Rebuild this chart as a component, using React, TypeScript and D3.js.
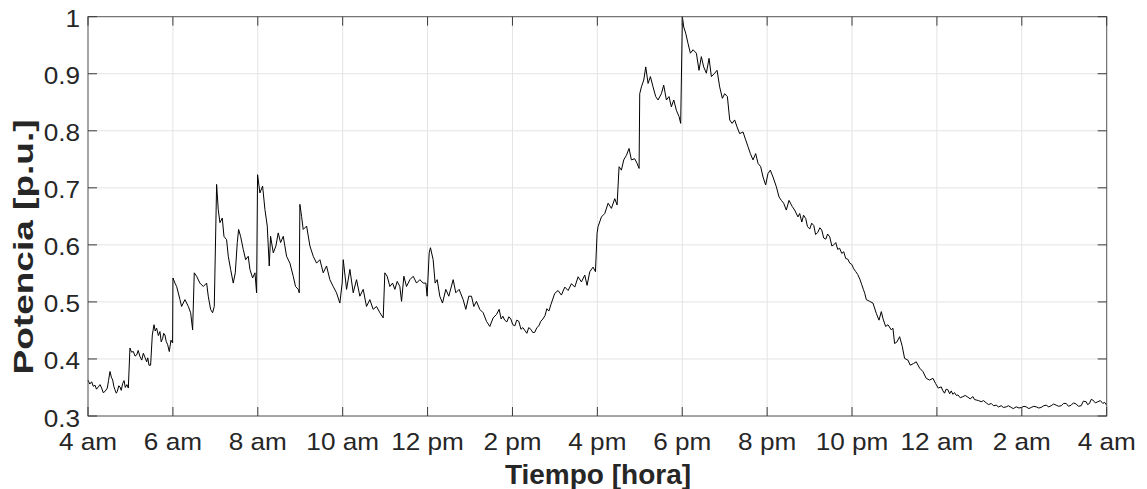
import React from 'react';
import * as d3 from 'd3';

// ---- Data: minutes since 4:00 am, power [p.u.] ----
const madrugada: [number, number][] = [
  [0, 0.363], [2.5, 0.356], [5.2, 0.36], [7.5, 0.352], [9.9, 0.354], [12, 0.347], [14.6, 0.351],
  [17, 0.355], [19.3, 0.349], [21.5, 0.341], [24, 0.343], [27.3, 0.349], [29, 0.362], [31.1, 0.378],
  [33, 0.368], [34.9, 0.363], [36.5, 0.352], [38.1, 0.346], [40, 0.34], [41.4, 0.343], [43.5, 0.353],
  [45.2, 0.351], [47, 0.345], [49, 0.357], [51, 0.362], [52.7, 0.35], [55, 0.355], [57, 0.349],
  [59.3, 0.419], [61.5, 0.412], [64.1, 0.413], [66.5, 0.405], [68.8, 0.407], [71, 0.415], [73.5, 0.404],
  [76, 0.398], [78.2, 0.41], [80.5, 0.403], [82.9, 0.395], [84.5, 0.402], [86.2, 0.389], [88.5, 0.389],
  [90.9, 0.442], [93.3, 0.46], [95, 0.449], [97, 0.454], [99.5, 0.441], [101.7, 0.448], [103.5, 0.43],
  [105.5, 0.436], [107, 0.445], [108.8, 0.442], [110.5, 0.431], [112.6, 0.425], [114.9, 0.413],
  [117.3, 0.433], [119.6, 0.428],
];

const manana: [number, number][] = [
  [120.1, 0.542], [122.9, 0.533], [125.3, 0.527], [130.0, 0.504], [132.3, 0.492], [137.0, 0.504],
  [141.8, 0.492], [145.1, 0.481], [147.9, 0.451], [150.2, 0.551], [153.5, 0.545], [158.2, 0.533],
  [163.0, 0.527], [167.7, 0.533], [170.0, 0.51], [173.3, 0.487], [176.1, 0.481], [178.5, 0.492],
  [181.8, 0.706], [184.1, 0.662], [186.5, 0.639], [189.8, 0.647], [192.2, 0.615], [195.9, 0.609],
  [198.3, 0.58], [201.6, 0.557], [205.3, 0.533], [208.2, 0.551], [211.0, 0.604], [212.9, 0.627],
  [215.7, 0.615], [219.5, 0.592], [222.8, 0.574], [226.5, 0.58], [228.9, 0.557], [232.7, 0.542],
  [236.0, 0.551], [238.3, 0.516], [239.7, 0.723], [243.0, 0.691], [246.8, 0.703], [250.1, 0.662],
  [253.4, 0.633], [256.2, 0.563], [258.1, 0.615], [261.9, 0.586], [265.6, 0.598], [268.9, 0.621],
  [272.2, 0.604], [276.0, 0.615], [280.7, 0.58], [285.4, 0.568], [290.1, 0.545], [293.4, 0.527],
  [297.2, 0.522], [298.6, 0.516], [299.5, 0.671], [301.9, 0.65], [304.2, 0.627], [309.0, 0.633],
  [313.7, 0.598], [318.4, 0.58], [323.1, 0.568], [327.8, 0.574], [332.5, 0.551], [337.2, 0.563],
  [341.9, 0.539], [346.6, 0.527], [351.3, 0.516], [356.0, 0.498], [359.3, 0.533], [360.8, 0.574],
  [365.5, 0.522], [370.2, 0.557], [374.9, 0.516], [379.6, 0.539], [384.3, 0.51], [389.0, 0.522],
  [393.7, 0.492], [398.4, 0.504], [403.1, 0.487], [407.9, 0.492], [412.6, 0.481], [417.3, 0.472],
  [419.6, 0.551], [422.9, 0.545], [426.7, 0.527], [430.5, 0.533], [433.8, 0.522], [437.1, 0.536],
  [440.8, 0.527], [443.2, 0.501], [446.5, 0.545], [450.2, 0.527], [455.0, 0.539], [459.7, 0.545],
  [464.4, 0.533], [469.1, 0.539], [473.8, 0.533], [477.6, 0.533], [479.4, 0.51],
];

const mediodia: [number, number][] = [
  [482.3, 0.586], [484.1, 0.595], [487.9, 0.574], [490.7, 0.533], [493.6, 0.539], [497.3, 0.51],
  [501.1, 0.498], [505.8, 0.522], [510.0, 0.51], [516.2, 0.539], [519.9, 0.516], [524.6, 0.522],
  [530.3, 0.504], [534.1, 0.487], [538.3, 0.51], [542.1, 0.51], [545.4, 0.492], [549.1, 0.501],
  [553.8, 0.487], [558.6, 0.481], [563.3, 0.466], [568.0, 0.457], [572.7, 0.472], [577.4, 0.478],
  [581.2, 0.487], [584, 0.47], [586.4, 0.475], [589, 0.468], [592.1, 0.465], [595, 0.474],
  [597.7, 0.47], [600.5, 0.46], [603.4, 0.458], [606, 0.468], [609, 0.466], [612, 0.452],
  [614.7, 0.455], [617.5, 0.45], [620.4, 0.445], [623, 0.455], [626, 0.452], [629, 0.446],
  [631.7, 0.447], [634.5, 0.455], [637.3, 0.458], [640, 0.466], [643, 0.47], [646, 0.476],
  [648.6, 0.488], [651.5, 0.484], [654.3, 0.495], [657, 0.505],
];

const tarde: [number, number][] = [
  [659.8, 0.515], [664.5, 0.52], [669.2, 0.512], [674.0, 0.526], [678.7, 0.52], [683.4, 0.532],
  [688.1, 0.526], [692.8, 0.544], [697.5, 0.535], [702.2, 0.547], [705.5, 0.529], [709.3, 0.553],
  [714.0, 0.561], [717.3, 0.553], [719.6, 0.62], [721.0, 0.632], [725.8, 0.649], [730.5, 0.655],
  [735.2, 0.673], [739.9, 0.664], [744.6, 0.681], [747.9, 0.67], [750.7, 0.737], [754.0, 0.731],
  [757.3, 0.749], [761.1, 0.757], [764.8, 0.769], [768.1, 0.749], [772.8, 0.751], [776.1, 0.743],
  [779.0, 0.734], [779.9, 0.865], [782.3, 0.877], [785.6, 0.889], [788.4, 0.912], [791.7, 0.883],
  [795.0, 0.895], [798.7, 0.877], [802.5, 0.86], [805.8, 0.854], [810.5, 0.865], [813.8, 0.88],
  [817.6, 0.854], [821.3, 0.86], [824.6, 0.842], [828.0, 0.854], [831.7, 0.836], [835.5, 0.825],
  [837.8, 0.813],
];

const noche: [number, number][] = [
  [840.2, 1.0], [842.1, 0.982], [844.9, 0.971], [848.2, 0.953], [851.5, 0.936], [855.3, 0.942],
  [860.0, 0.936], [863.7, 0.906], [867.0, 0.93], [870.3, 0.912], [874.1, 0.901], [877.9, 0.927],
  [881.2, 0.895], [885.9, 0.901], [889.2, 0.906], [892.9, 0.877], [896.7, 0.857], [900.0, 0.865],
  [903.8, 0.86], [907.1, 0.819], [910.4, 0.813], [914.1, 0.819], [917.4, 0.807], [921.2, 0.795],
  [925.9, 0.798], [929.7, 0.784], [933.0, 0.772], [936.3, 0.76], [940.0, 0.749], [943.8, 0.76],
  [947.1, 0.743], [950.9, 0.737], [954.2, 0.719], [957.9, 0.705], [961.2, 0.725], [964.5, 0.731],
  [968.3, 0.719], [973.0, 0.702], [976.8, 0.684], [980.1, 0.678], [983.4, 0.673], [987.1, 0.661],
  [990.9, 0.678], [995.6, 0.667], [998.9, 0.661], [1003.6, 0.649], [1006, 0.655], [1009.0, 0.64],
  [1011.5, 0.652], [1014.6, 0.646], [1017, 0.632], [1020.3, 0.628], [1023, 0.638], [1025.9, 0.634],
  [1028.5, 0.618], [1031.6, 0.622], [1034.5, 0.63], [1037.2, 0.626], [1040, 0.612], [1042.9, 0.61],
  [1045.5, 0.619], [1048.5, 0.614], [1051.5, 0.598], [1054.2, 0.6], [1057, 0.604], [1059.8, 0.592],
  [1062.5, 0.594], [1065.5, 0.585], [1068.3, 0.588], [1071.1, 0.576], [1074, 0.575], [1076.8, 0.568],
  [1079.5, 0.566], [1082.5, 0.558], [1085.3, 0.553], [1088.1, 0.548], [1091, 0.54], [1093.8, 0.53],
  [1096, 0.522], [1098.0, 0.515], [1100.2, 0.504], [1104.9, 0.501], [1109.6, 0.498],
  [1114.3, 0.48], [1118.1, 0.468], [1121.4, 0.483], [1123.7, 0.471], [1127.5, 0.457], [1130.8, 0.46],
  [1135.5, 0.451], [1137.8, 0.454], [1140.2, 0.427], [1143.5, 0.43], [1147.3, 0.439], [1151.0, 0.422],
  [1154.3, 0.401], [1159.0, 0.398], [1162.3, 0.389], [1167.0, 0.392], [1170.8, 0.395], [1175.5, 0.384],
  [1180.2, 0.378], [1184.9, 0.366], [1189.6, 0.363], [1194.4, 0.366], [1198.1, 0.357], [1201.9, 0.349],
];

const trasnoche: [number, number][] = [
  [1206.1, 0.351], [1208.5, 0.344], [1210.8, 0.34], [1213, 0.347], [1215.5, 0.346], [1218, 0.339],
  [1220.3, 0.344], [1222.5, 0.338], [1225, 0.341], [1227.5, 0.336], [1229.7, 0.337], [1233, 0.332],
  [1236.7, 0.334], [1240, 0.336], [1243.8, 0.333], [1247, 0.33], [1250.9, 0.334], [1253, 0.329],
  [1255.6, 0.328], [1259, 0.327], [1262.6, 0.325], [1266, 0.327], [1269.7, 0.323], [1273, 0.32],
  [1276.8, 0.322], [1280, 0.318], [1283.8, 0.319], [1287, 0.316], [1290.9, 0.318], [1294, 0.315],
  [1298, 0.316], [1301, 0.318], [1305, 0.315], [1308, 0.313], [1312.1, 0.316], [1316, 0.314],
  [1319.6, 0.315], [1323, 0.317], [1326.2, 0.316], [1330, 0.313], [1333.3, 0.315], [1337, 0.317],
  [1340.4, 0.316], [1344, 0.314], [1347.4, 0.315], [1351, 0.318], [1354.5, 0.319], [1358, 0.316],
  [1361.5, 0.318], [1365, 0.321], [1368.6, 0.319], [1372, 0.317], [1375.7, 0.318], [1379, 0.322],
  [1382.7, 0.322], [1386, 0.317], [1389.8, 0.319], [1393, 0.323], [1396.9, 0.321], [1400, 0.317],
  [1403.9, 0.318], [1407, 0.326], [1411, 0.325], [1413, 0.32], [1415.7, 0.322], [1418, 0.329],
  [1420.4, 0.328], [1424, 0.323], [1427.5, 0.325], [1431, 0.327], [1434.5, 0.322], [1437, 0.324],
  [1440, 0.319],
];

const xTickMinutes = [0, 120, 240, 360, 480, 600, 720, 840, 960, 1080, 1200, 1320, 1440];
const xTickLabels = ['4 am', '6 am', '8 am', '10 am', '12 pm', '2 pm', '4 pm', '6 pm', '8 pm', '10 pm', '12 am', '2 am', '4 am'];
const yTickValues = [0.3, 0.4, 0.5, 0.6, 0.7, 0.8, 0.9, 1];
const yTickLabels = ['0.3', '0.4', '0.5', '0.6', '0.7', '0.8', '0.9', '1'];

const W = 1147;
const H = 489;
const L = 88, R = 1106.7, T = 16.7, B = 416;
const FONT = "'Liberation Sans', Arial, Helvetica, sans-serif";
const TXT = '#262626';

export default function App() {
  const data = [...madrugada, ...manana, ...mediodia, ...tarde, ...noche, ...trasnoche];
  const x = d3.scaleLinear().domain([0, 1440]).range([L, R]);
  const y = d3.scaleLinear().domain([0.3, 1]).range([B, T]);
  const line = d3.line<[number, number]>().x(d => x(d[0])).y(d => y(d[1]));
  const tick = 9;

  return (
    <svg width={W} height={H} style={{ position: 'absolute', left: 0, top: 0, background: '#fff' }}>
      <rect x={0} y={0} width={W} height={H} fill="#fff" />
      {/* grid */}
      {xTickMinutes.map((m, i) => (
        <line key={'gx' + i} x1={x(m)} x2={x(m)} y1={T} y2={B} stroke="#e3e3e3" strokeWidth={1} />
      ))}
      {yTickValues.map((v, i) => (
        <line key={'gy' + i} x1={L} x2={R} y1={y(v)} y2={y(v)} stroke="#e3e3e3" strokeWidth={1} />
      ))}
      {/* data line */}
      <path d={line(data) || ''} fill="none" stroke="#000" strokeWidth={1} strokeLinejoin="round" />
      {/* box */}
      <rect x={L} y={T} width={R - L} height={B - T} fill="none" stroke="#5a5a5a" strokeWidth={1} />
      {/* ticks */}
      {xTickMinutes.map((m, i) => (
        <g key={'tx' + i}>
          <line x1={x(m)} x2={x(m)} y1={B} y2={B - tick} stroke="#3a3a3a" strokeWidth={1} />
          <line x1={x(m)} x2={x(m)} y1={T} y2={T + tick} stroke="#3a3a3a" strokeWidth={1} />
        </g>
      ))}
      {yTickValues.map((v, i) => (
        <g key={'ty' + i}>
          <line x1={L} x2={L + tick} y1={y(v)} y2={y(v)} stroke="#3a3a3a" strokeWidth={1} />
          <line x1={R} x2={R - tick} y1={y(v)} y2={y(v)} stroke="#3a3a3a" strokeWidth={1} />
        </g>
      ))}
      {/* tick labels */}
      {xTickMinutes.map((m, i) => (
        <text key={'lx' + i} transform={`translate(${x(m)},450) scale(1.09,1)`} textAnchor="middle"
          fontFamily={FONT} fontSize={24} fill={TXT}>{xTickLabels[i]}</text>
      ))}
      {yTickValues.map((v, i) => (
        <text key={'ly' + i} transform={`translate(80,${y(v) + 10.5}) scale(1.09,1)`} textAnchor="end"
          fontFamily={FONT} fontSize={24} fill={TXT}>{yTickLabels[i]}</text>
      ))}
      {/* axis labels */}
      <text x={598} y={484} textAnchor="middle" fontFamily={FONT} fontSize={28} fontWeight="bold" fill={TXT}>
        Tiempo [hora]
      </text>
      <text transform="translate(33,247) rotate(-90)" textAnchor="middle" fontFamily={FONT} fontSize={28}
        fontWeight="bold" fill={TXT} textLength={255} lengthAdjust="spacingAndGlyphs">
        Potencia [p.u.]
      </text>
    </svg>
  );
}
